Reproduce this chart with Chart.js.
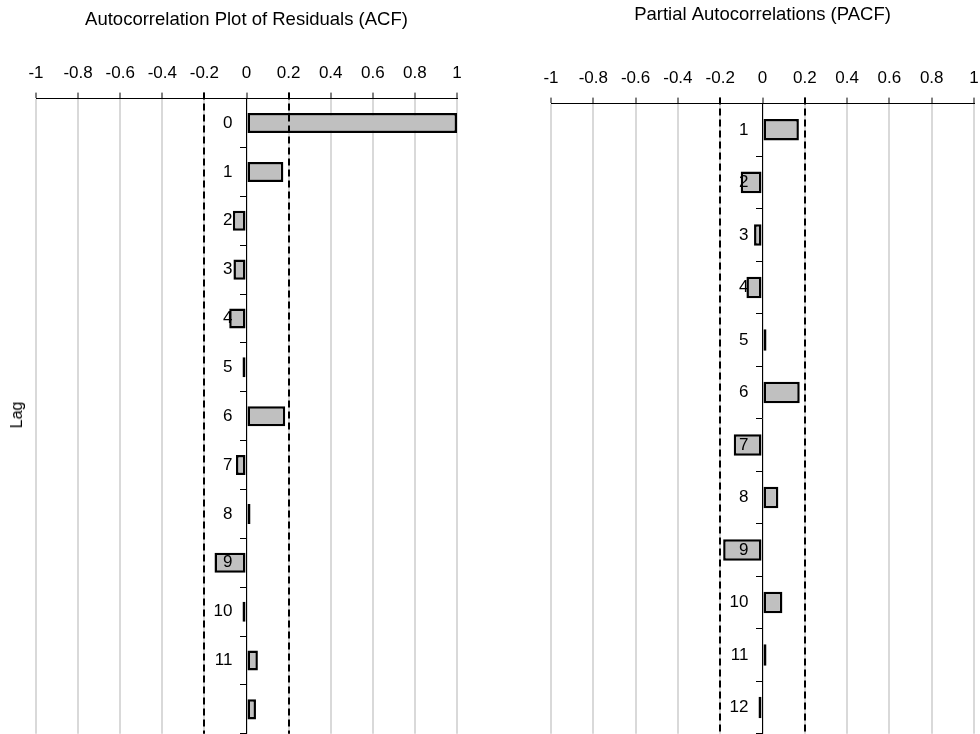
<!DOCTYPE html>
<html>
<head>
<meta charset="utf-8">
<script src="https://cdn.jsdelivr.net/npm/chart.js@4/dist/chart.umd.min.js"></script>
<style>
  html, body { margin: 0; padding: 0; background: #fff; overflow: hidden; }
  #wrap { position: relative; width: 980px; height: 734px; overflow: hidden; }
  .panel { position: absolute; top: 0; height: 744px; }
  #lagTitle {
    position: absolute; left: 17px; top: 415px;
    transform: translate(-50%, -50%) rotate(-90deg);
    font: 16px "Liberation Sans", Arial, sans-serif; color: #000;
    white-space: nowrap;
  }
</style>
</head>
<body>
<div id="wrap">
  <!-- canvases are a bit bigger than the window: the axes reserve room for half labels at the edges -->
  <div class="panel" style="left:0; width:490px"><canvas id="acf_chart" width="490" height="744"></canvas></div>
  <div class="panel" style="left:490px; width:498px"><canvas id="pacf_chart" width="498" height="744"></canvas></div>
  <div id="lagTitle">Lag</div>
</div>
<script>
// ===== Data =====
const ACF_LAGS   = ['0', '1', '2', '3', '4', '5', '6', '7', '8', '9', '10', '11', ''];
const ACF_VALUES = [1.0, 0.175, -0.065, -0.062, -0.082, -0.017, 0.184, -0.05, 0.015, -0.152, -0.012, 0.054, 0.045];

const PACF_LAGS   = ['1', '2', '3', '4', '5', '6', '7', '8', '9', '10', '11', '12'];
const PACF_VALUES = [0.172, -0.103, -0.04, -0.076, 0.004, 0.176, -0.136, 0.075, -0.186, 0.094, 0.006, -0.008];

// +/- critical limits (dashed)
const CRIT_LIMITS = [-0.2, 0.2];

// correlation axis
const AXIS_MIN = -1;
const AXIS_MAX = 1;
const AXIS_STEP = 0.2;

const FONT = '"Liberation Sans", Arial, sans-serif';

// ---- dashed critical lines, drawn over the bars ----
const critLinesPlugin = {
  id: 'critLines',
  afterDatasetsDraw(chart, _args, opts) {
    const { ctx, chartArea, scales } = chart;
    const x = scales.x;
    ctx.save();
    ctx.strokeStyle = '#000';
    ctx.lineWidth = 2;
    ctx.setLineDash([7, 4]);
    (opts.values || []).forEach(v => {
      const px = Math.round(x.getPixelForValue(v));
      ctx.beginPath();
      ctx.moveTo(px, chartArea.top - 6);
      ctx.lineTo(px, chartArea.bottom);
      ctx.stroke();
    });
    ctx.restore();
  }
};
Chart.register(critLinesPlugin);

function drawCorrChart(canvasId, title, lags, values, pad, titlePad) {
  const ctx = document.getElementById(canvasId).getContext('2d');
  return new Chart(ctx, {
    type: 'bar',
    data: {
      labels: lags,
      datasets: [{
        data: values,
        backgroundColor: '#c0c0c0',
        borderColor: '#000',
        borderWidth: 2.5,
        borderSkipped: false,
        minBarLength: 4,          // near-zero lags still show as a black sliver
        barPercentage: 0.41,
        categoryPercentage: 1
      }]
    },
    options: {
      indexAxis: 'y',
      responsive: false,
      animation: false,
      events: [],
      devicePixelRatio: 1,
      layout: { padding: pad },
      plugins: {
        legend: { display: false },
        tooltip: { enabled: false },
        title: {
          display: true,
          text: title,
          color: '#000',
          font: { family: FONT, size: 18.5, weight: 'normal' },
          padding: titlePad
        },
        critLines: { values: CRIT_LIMITS }
      },
      scales: {
        x: {
          type: 'linear',
          position: 'top',
          min: AXIS_MIN,
          max: AXIS_MAX,
          border: { color: '#000', width: 1 },
          grid: { color: '#d9d9d9', lineWidth: 2, tickColor: '#000', tickWidth: 1, tickLength: 6 },
          ticks: {
            stepSize: AXIS_STEP,
            autoSkip: false,
            maxRotation: 0,
            padding: 9,
            color: '#000',
            font: { family: FONT, size: 17 },
            callback: v => String(+Number(v).toFixed(1))
          }
        },
        y: {
          type: 'category',
          position: { x: 0 },
          offset: true,
          border: { color: '#000', width: 1, z: 1 },
          grid: { drawOnChartArea: false, drawTicks: true, tickLength: 6, tickColor: '#000', offset: true },
          ticks: {
            z: 1,
            autoSkip: false,
            padding: 0,
            color: '#000',
            font: { family: FONT, size: 17 },
            // labels sit left of the zero line; trailing spaces give the gap
            callback: (v, i) => lags[i] ? lags[i] + '   ' : ''
          }
        }
      }
    }
  });
}

drawCorrChart('acf_chart', 'Autocorrelation Plot of Residuals (ACF)', ACF_LAGS, ACF_VALUES,
  { left: 36, right: 33, top: 0, bottom: 0 }, { top: 9, bottom: 23 });
drawCorrChart('pacf_chart', 'Partial Autocorrelations (PACF)', PACF_LAGS, PACF_VALUES,
  { left: 61, right: 14, top: 0, bottom: 0 }, { top: 4, bottom: 33 });
</script>
</body>
</html>
